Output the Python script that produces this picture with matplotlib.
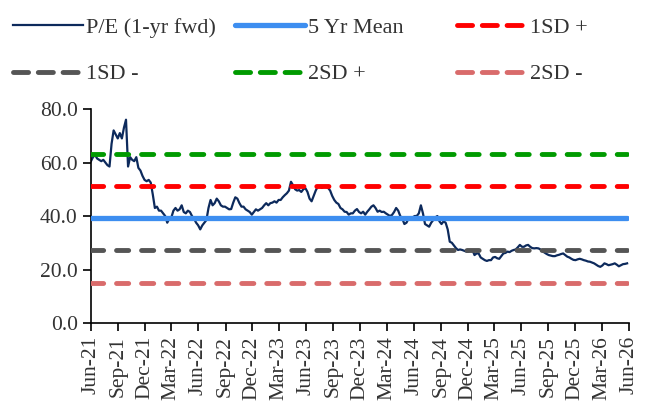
import pandas as pd
import matplotlib
matplotlib.use('Agg')
import matplotlib.pyplot as plt
import matplotlib.dates as mdates
from matplotlib.lines import Line2D

plt.rcParams['font.family'] = ['Liberation Serif', 'DejaVu Serif']

# Weekly P/E (1-yr fwd), starting Jun-21
pe_values = [
    60.5, 62.0, 62.8, 61.5, 61.0, 60.5, 61.0, 60.0, 59.0, 58.5,
    67.0, 72.0, 70.5, 69.0, 71.0, 69.0, 73.0, 76.0, 58.5, 62.0,
    61.0, 60.5, 62.0, 58.0, 57.0, 55.0, 53.5, 53.0, 53.5, 52.5,
    48.0, 43.0, 43.5, 42.0, 42.0, 41.0, 40.0, 37.5, 39.0, 39.5,
    42.0, 43.0, 42.0, 42.5, 44.0, 41.5, 41.0, 42.0, 41.5, 40.0,
    39.0, 37.5, 36.5, 35.0, 36.5, 37.5, 38.5, 43.0, 46.0, 44.0,
    44.8, 46.5, 45.5, 44.0, 43.5, 43.5, 43.0, 42.5, 42.6, 45.0,
    47.0, 46.5, 44.8, 43.5, 43.5, 42.5, 42.0, 41.5, 40.5, 41.5,
    42.5, 42.0, 42.5, 43.0, 44.0, 44.8, 44.0, 44.8, 45.0, 45.5,
    45.0, 46.0, 46.0, 47.0, 47.8, 48.5, 49.5, 52.8, 51.5, 50.0,
    49.5, 49.7, 49.0, 50.0, 50.4, 49.0, 46.5, 45.5, 47.5, 49.5,
    51.0, 51.0, 50.5, 51.0, 51.0, 50.5, 49.5, 47.5, 46.0, 45.0,
    44.5, 43.0, 42.5, 41.6, 41.5, 40.5, 41.0, 41.0, 42.0, 42.6,
    41.5, 41.0, 41.6, 40.5, 41.6, 42.5, 43.5, 44.0, 43.0, 41.6,
    42.0, 41.5, 41.6, 41.0, 40.5, 40.0, 40.4, 41.5, 43.0, 42.0,
    40.0, 39.0, 37.0, 37.5, 39.0, 39.6, 39.5, 40.0, 40.0, 41.0,
    44.0, 41.0, 37.0, 36.5, 36.0, 37.5, 38.5, 39.5, 40.0, 38.0,
    37.0, 38.0, 37.5, 35.0, 30.4, 30.0, 29.0, 28.0, 27.3, 27.5,
    27.3, 27.0, 26.7, 26.7, 27.0, 27.3, 25.4, 26.0, 26.0, 24.5,
    24.0, 23.5, 23.2, 23.5, 23.5, 24.5, 24.7, 24.2, 24.0, 25.0,
    26.0, 26.2, 26.7, 26.5, 27.0, 27.3, 27.5, 28.3, 29.2, 28.5,
    28.5, 29.0, 29.2, 28.5, 28.0, 27.9, 28.0, 27.9, 27.5, 26.8,
    26.3, 25.8, 25.4, 25.2, 25.0, 25.0, 25.3, 25.5, 25.8, 26.0,
    25.4, 24.8, 24.5, 24.0, 23.6, 23.5, 23.8, 24.0, 23.8, 23.5,
    23.3, 23.0, 22.9, 22.6, 22.3, 21.8, 21.3, 21.0, 21.5, 22.3,
    22.0, 21.6, 21.8, 22.0, 22.3, 21.8, 21.2, 21.6, 22.0, 22.1,
    22.3,
]
dates = pd.date_range('2021-06-01', periods=len(pe_values), freq='7D')

# Band levels
band_labels = ['5 Yr Mean', '1SD +', '1SD -', '2SD +', '2SD -']
band_levels = [39.1, 51.1, 27.2, 63.2, 15.1]
band_colors = ['#3d8ef0', '#ff0000', '#555555', '#009a00', '#d96b6b']
pe_color = '#0d2a5c'

fig = plt.figure(figsize=(6.45, 4.03), dpi=100)
ax = fig.add_axes([0.141, 0.1985, 0.834, 0.531])

ax.plot(dates, pe_values, color=pe_color, lw=1.6, zorder=2)

# legend proxies (legend dashes are a bit tighter than in the plot)
handles = {'P/E (1-yr fwd)': Line2D([], [], color=pe_color, lw=1.6)}
for lab, lvl, col in zip(band_labels, band_levels, band_colors):
    if lab == '5 Yr Mean':
        ax.plot(dates, [lvl] * len(dates), color=col, lw=3.8,
                solid_capstyle='round', zorder=3)
        handles[lab] = Line2D([], [], color=col, lw=3.8, solid_capstyle='round')
    else:
        ax.plot(dates, [lvl] * len(dates), color=col, lw=3.5,
                dashes=(2.5, 2.65), dash_capstyle='round', zorder=3)
        handles[lab] = Line2D([], [], color=col, lw=3.5, dashes=(3.1, 2.0),
                              dash_capstyle='round')

ax.set_ylim(0, 80)
ax.set_yticks([0, 20, 40, 60, 80])
ax.set_yticklabels([f'{v:.1f}' for v in [0, 20, 40, 60, 80]])
ax.set_xlim(pd.Timestamp('2021-06-01'), pd.Timestamp('2026-06-01'))
ax.xaxis.set_major_locator(mdates.MonthLocator(bymonth=[3, 6, 9, 12]))
ax.xaxis.set_major_formatter(mdates.DateFormatter('%b-%y'))
plt.setp(ax.get_xticklabels(), rotation=90)

for s in ['top', 'right']:
    ax.spines[s].set_visible(False)
for s in ['left', 'bottom']:
    ax.spines[s].set_color('black')
    ax.spines[s].set_linewidth(1.2)
ax.tick_params(axis='both', labelsize=15.5, labelcolor='#333333', length=6,
               width=1.2, direction='out', color='black')

# three legend columns, placed like the original
columns = [['P/E (1-yr fwd)', '1SD -'], ['5 Yr Mean', '2SD +'], ['1SD +', '2SD -']]
col_x = [2, 224, 446]
for labs, x in zip(columns, col_x):
    fig.legend([handles[k] for k in labs], labs, frameon=False,
               loc='upper left', bbox_to_anchor=(x / 645, 0.985),
               fontsize=16, borderpad=0, handlelength=3.15,
               handletextpad=0.12, labelspacing=1.18, labelcolor='#333333')

fig.savefig('out.png', dpi=100)
